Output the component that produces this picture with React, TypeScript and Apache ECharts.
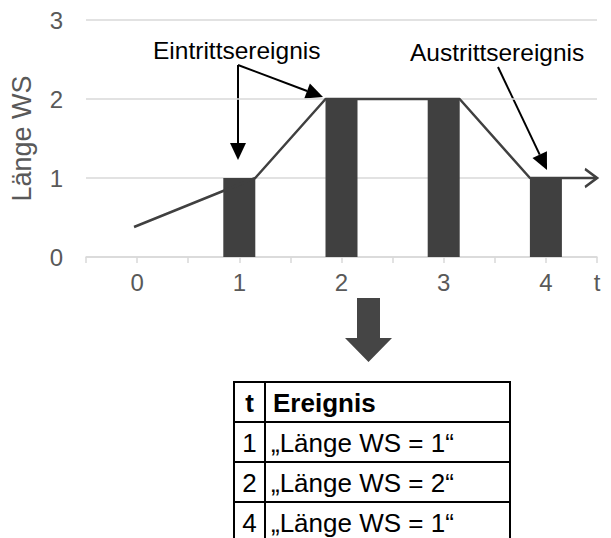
import React, { useEffect, useRef } from 'react';
import * as echarts from 'echarts';

// ---- data ----
const xTicks = ['0', '1', '2', '3', '4'];
const xAxisName = 't';
const yTicks = ['0', '1', '2', '3'];
const yName = 'Länge WS';
const barX = [1, 2, 3, 4];
const barY = [1, 2, 2, 1];
const lineX = [-0.03, 1.156, 1.844, 3.156, 3.844, 4.5];
const lineY = [0.38, 1, 2, 2, 1, 1];
const entryLabel = 'Eintrittsereignis';
const exitLabel = 'Austrittsereignis';
const tableHeader = ['t', 'Ereignis'];
const tableT = ['1', '2', '4'];
const tableEvent = ['„Länge WS = 1“', '„Länge WS = 2“', '„Länge WS = 1“'];

const FONT = 'Liberation Sans, Arial, sans-serif';
const DARK = '#404040';
const GRAY_TXT = '#595959';
const GRID = '#d9d9d9';

function arrow(x1: number, y1: number, x2: number, y2: number, len = 17, w = 16, color = '#000', lw = 2) {
  const dx = x2 - x1, dy = y2 - y1, d = Math.hypot(dx, dy);
  const ux = dx / d, uy = dy / d;
  const bx = x2 - ux * len, by = y2 - uy * len;
  const px = -uy, py = ux;
  return [
    { type: 'line', silent: true, shape: { x1, y1, x2: bx, y2: by }, style: { stroke: color, lineWidth: lw } },
    {
      type: 'polygon', silent: true,
      shape: { points: [[x2, y2], [bx + (px * w) / 2, by + (py * w) / 2], [bx - (px * w) / 2, by - (py * w) / 2]] },
      style: { fill: color },
    },
  ];
}

function buildTable() {
  const left = 234, right = 510, top = 382, rowH = 40, divX = 265;
  const rows = tableT.length + 1;
  const bottom = top + rows * rowH;
  const els: any[] = [];
  els.push({ type: 'rect', silent: true, shape: { x: left, y: top, width: right - left, height: bottom - top }, style: { fill: '#fff', stroke: '#000', lineWidth: 2 } });
  for (let i = 1; i < rows; i++) {
    els.push({ type: 'line', silent: true, shape: { x1: left, y1: top + i * rowH, x2: right, y2: top + i * rowH }, style: { stroke: '#000', lineWidth: 2 } });
  }
  els.push({ type: 'line', silent: true, shape: { x1: divX, y1: top, x2: divX, y2: bottom }, style: { stroke: '#000', lineWidth: 2 } });
  const cellText = (txt: string, x: number, y: number, bold: boolean, align: string) => ({
    type: 'text', silent: true, x, y,
    style: { text: txt, fill: '#000', font: `${bold ? 'bold ' : ''}26px ${FONT}`, textAlign: align, textVerticalAlign: 'middle' },
  });
  els.push(cellText(tableHeader[0], (left + divX) / 2, top + rowH / 2 + 1, true, 'center'));
  els.push(cellText(tableHeader[1], divX + 8, top + rowH / 2 + 1, true, 'left'));
  tableT.forEach((t, i) => {
    const cy = top + (i + 1) * rowH + rowH / 2 + 1;
    els.push(cellText(t, (left + divX) / 2, cy, false, 'center'));
    els.push(cellText(tableEvent[i], divX + 6, cy, false, 'left'));
  });
  return els;
}

export default function App() {
  const ref = useRef<HTMLDivElement>(null);
  useEffect(() => {
    document.body.style.margin = '0';
    const chart = echarts.init(ref.current!, null, { renderer: 'svg' });
    const lineData: any[] = lineX.map((x, i) => [x, lineY[i]]);
    const last = lineData.length - 1;
    lineData[last] = {
      value: lineData[last],
      symbol: 'path://M0,0L10,10L0,20',
      symbolSize: [12, 18],
      symbolOffset: ['-50%', 0],
      itemStyle: { color: 'none', borderColor: DARK, borderWidth: 2.5 },
    };
    chart.setOption({
      animation: false,
      backgroundColor: '#fff',
      grid: { left: 85, right: 14, top: 20, bottom: 281 },
      xAxis: {
        type: 'value', min: -0.5, max: 4.5, interval: 0.5,
        axisLine: { show: true, lineStyle: { color: GRID, width: 1.5 } },
        axisTick: { show: true, length: 6, lineStyle: { color: GRID, width: 1.5 } },
        splitLine: { show: false },
        axisLabel: {
          color: GRAY_TXT, fontSize: 24, fontFamily: FONT, margin: 13, showMaxLabel: true, showMinLabel: true,
          formatter: (v: number) => {
            if (Math.abs(v - 4.5) < 1e-6) return xAxisName;
            const r = Math.round(v);
            if (Math.abs(v - r) < 1e-6 && r >= 0 && r < xTicks.length) return xTicks[r];
            return '';
          },
        },
      },
      yAxis: {
        type: 'value', min: 0, max: 3, interval: 1,
        name: yName, nameLocation: 'middle', nameGap: 51,
        nameTextStyle: { color: GRAY_TXT, fontSize: 27, fontFamily: FONT },
        axisLine: { show: false }, axisTick: { show: false },
        splitLine: { lineStyle: { color: GRID, width: 1.5 } },
        axisLabel: { color: GRAY_TXT, fontSize: 24, fontFamily: FONT, margin: 23, formatter: (v: number) => yTicks[Math.round(v)] ?? '' },
      },
      series: [
        {
          type: 'bar', data: barX.map((x, i) => [x, barY[i]]), barWidth: 32,
          itemStyle: { color: DARK }, silent: true,
        },
        {
          type: 'line', data: lineData, symbol: 'none', showSymbol: true,
          lineStyle: { color: DARK, width: 2.5 }, silent: true, z: 3,
        },
      ],
      graphic: [
        { type: 'text', silent: true, x: 153, y: 50, style: { text: entryLabel, fill: '#000', font: `24.5px ${FONT}`, textVerticalAlign: 'middle' } },
        { type: 'text', silent: true, x: 410, y: 52, style: { text: exitLabel, fill: '#000', font: `24.5px ${FONT}`, textVerticalAlign: 'middle' } },
        ...arrow(238, 65, 238, 160),
        ...arrow(238, 65, 323, 97),
        ...arrow(498, 67, 547, 170),
        {
          type: 'polygon', silent: true,
          shape: { points: [[357, 298], [380, 298], [380, 338], [392, 338], [368.5, 362], [345, 338], [357, 338]] },
          style: { fill: '#454545' },
        },
        ...buildTable(),
      ],
    });
    return () => chart.dispose();
  }, []);
  return <div ref={ref} style={{ width: 611, height: 538 }} />;
}
